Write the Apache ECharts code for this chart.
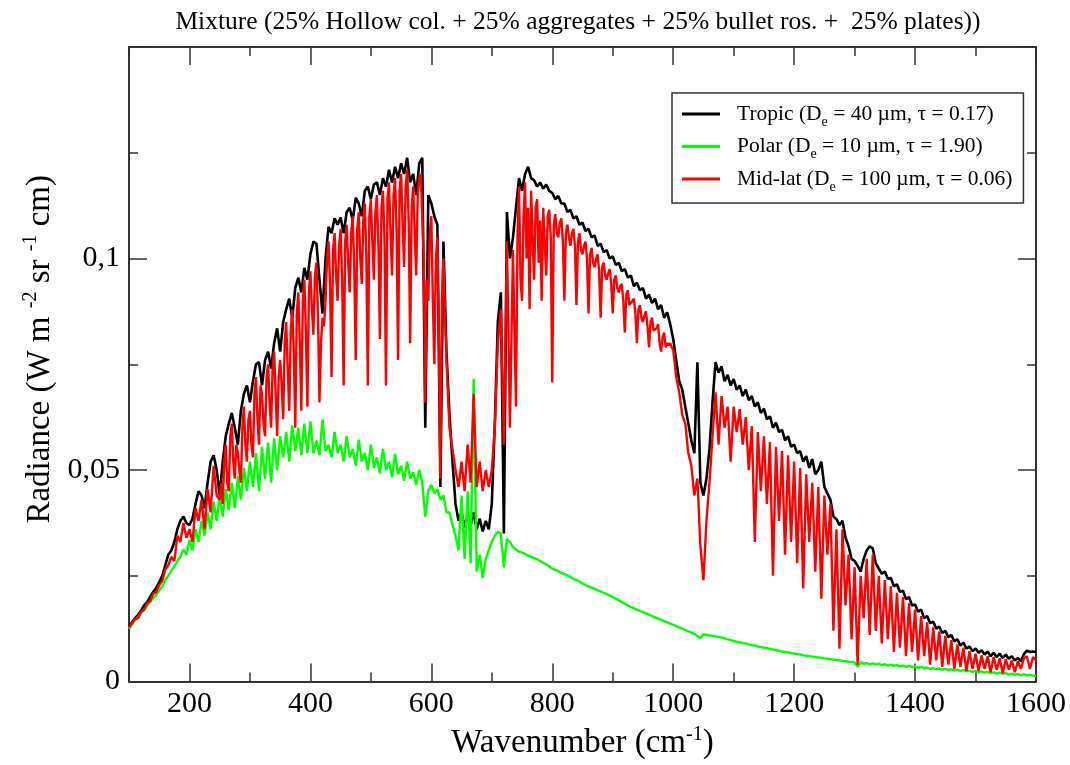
<!DOCTYPE html>
<html><head><meta charset="utf-8">
<script src="https://cdn.jsdelivr.net/npm/echarts@6/dist/echarts.min.js"></script>
<style>html,body{margin:0;padding:0;background:#fff}#chart{width:1070px;height:765px}</style>
</head><body><div id="chart"></div>
<script>
// wavenumber grid (cm-1) for Tropic and Polar
const wavenumber = [
100,105,110,115,120,125,130,135,140,145,
150,155,160,165,170,175,180,185,190,195,
200,205,210,215,220,225,230,235,240,245,
250,255,260,265,270,275,280,285,290,295,
300,305,310,315,320,325,330,335,340,345,
350,355,360,365,370,375,380,385,390,395,
400,405,410,415,420,425,430,435,440,445,
450,455,460,465,470,475,480,485,490,495,
500,505,510,515,520,525,530,535,540,545,
550,555,560,565,570,575,580,585,590,595,
600,605,610,615,620,625,630,635,640,645,
650,655,660,665,670,675,680,685,690,695,
700,705,710,715,720,725,730,735,740,745,
750,755,760,765,770,775,780,785,790,795,
800,805,810,815,820,825,830,835,840,845,
850,855,860,865,870,875,880,885,890,895,
900,905,910,915,920,925,930,935,940,945,
950,955,960,965,970,975,980,985,990,995,
1000,1005,1010,1015,1020,1025,1030,1035,1040,1045,
1050,1055,1060,1065,1070,1075,1080,1085,1090,1095,
1100,1105,1110,1115,1120,1125,1130,1135,1140,1145,
1150,1155,1160,1165,1170,1175,1180,1185,1190,1195,
1200,1205,1210,1215,1220,1225,1230,1235,1240,1245,
1250,1255,1260,1265,1270,1275,1280,1285,1290,1295,
1300,1305,1310,1315,1320,1325,1330,1335,1340,1345,
1350,1355,1360,1365,1370,1375,1380,1385,1390,1395,
1400,1405,1410,1415,1420,1425,1430,1435,1440,1445,
1450,1455,1460,1465,1470,1475,1480,1485,1490,1495,
1500,1505,1510,1515,1520,1525,1530,1535,1540,1545,
1550,1555,1560,1565,1570,1575,1580,1585,1590,1595,
1600];

// Tropic (black)
const tropic = [
0.0130,0.0140,0.0150,0.0158,0.0168,0.0180,0.0188,0.0200,0.0212,0.0222,
0.0235,0.0250,0.0275,0.0300,0.0310,0.0330,0.0360,0.0380,0.0390,0.0375,
0.0370,0.0385,0.0420,0.0450,0.0440,0.0410,0.0470,0.0520,0.0535,0.0500,
0.0440,0.0520,0.0580,0.0610,0.0635,0.0600,0.0560,0.0640,0.0680,0.0700,
0.0660,0.0710,0.0750,0.0755,0.0700,0.0760,0.0780,0.0740,0.0800,0.0835,
0.0780,0.0850,0.0880,0.0905,0.0860,0.0930,0.0955,0.0920,0.0978,0.0950,
0.1010,0.1040,0.1035,0.0950,0.0870,0.1000,0.1075,0.1060,0.1095,0.1080,
0.1097,0.1060,0.1110,0.1120,0.1090,0.1144,0.1130,0.1100,0.1160,0.1170,
0.1140,0.1175,0.1180,0.1150,0.1190,0.1170,0.1210,0.1180,0.1217,0.1190,
0.1225,0.1200,0.1238,0.1180,0.1200,0.1150,0.1225,0.1238,0.0600,0.1150,
0.1130,0.1100,0.1080,0.0460,0.1040,0.0780,0.0630,0.0520,0.0420,0.0380,
0.0400,0.0365,0.0395,0.0370,0.0400,0.0360,0.0385,0.0355,0.0380,0.0360,
0.0420,0.0610,0.0850,0.0920,0.0350,0.1110,0.1000,0.1050,0.1120,0.1190,
0.1160,0.1200,0.1217,0.1190,0.1185,0.1170,0.1180,0.1165,0.1175,0.1160,
0.1155,0.1140,0.1148,0.1130,0.1130,0.1110,0.1115,0.1095,0.1100,0.1080,
0.1085,0.1065,0.1070,0.1050,0.1055,0.1030,0.1035,0.1015,0.1020,0.1000,
0.1005,0.0985,0.0990,0.0970,0.0975,0.0955,0.0960,0.0935,0.0943,0.0925,
0.0930,0.0905,0.0915,0.0895,0.0905,0.0880,0.0890,0.0860,0.0873,0.0845,
0.0810,0.0760,0.0710,0.0690,0.0650,0.0610,0.0570,0.0540,0.0755,0.0470,
0.0440,0.0480,0.0550,0.0660,0.0755,0.0730,0.0745,0.0710,0.0725,0.0700,
0.0715,0.0690,0.0700,0.0675,0.0690,0.0665,0.0675,0.0650,0.0660,0.0635,
0.0645,0.0620,0.0627,0.0600,0.0612,0.0590,0.0595,0.0570,0.0580,0.0555,
0.0560,0.0540,0.0545,0.0520,0.0533,0.0505,0.0526,0.0490,0.0500,0.0520,
0.0460,0.0445,0.0430,0.0390,0.0384,0.0370,0.0380,0.0340,0.0320,0.0290,
0.0285,0.0274,0.0260,0.0290,0.0310,0.0320,0.0315,0.0280,0.0267,0.0255,
0.0260,0.0243,0.0245,0.0225,0.0230,0.0212,0.0215,0.0195,0.0200,0.0180,
0.0182,0.0165,0.0170,0.0150,0.0155,0.0138,0.0142,0.0125,0.0130,0.0115,
0.0120,0.0105,0.0110,0.0095,0.0100,0.0085,0.0092,0.0078,0.0083,0.0072,
0.0078,0.0068,0.0074,0.0064,0.0071,0.0060,0.0068,0.0058,0.0066,0.0056,
0.0064,0.0054,0.0060,0.0050,0.0056,0.0048,0.0065,0.0073,0.0070,0.0071,
0.0070];

// Polar (green)
const polar = [
0.0125,0.0135,0.0145,0.0152,0.0162,0.0170,0.0180,0.0188,0.0197,0.0205,
0.0215,0.0225,0.0240,0.0250,0.0262,0.0272,0.0285,0.0295,0.0312,0.0300,
0.0335,0.0310,0.0360,0.0330,0.0380,0.0345,0.0400,0.0360,0.0425,0.0380,
0.0440,0.0390,0.0455,0.0405,0.0470,0.0410,0.0485,0.0430,0.0505,0.0450,
0.0520,0.0460,0.0540,0.0450,0.0555,0.0480,0.0565,0.0470,0.0575,0.0500,
0.0580,0.0530,0.0590,0.0520,0.0605,0.0545,0.0600,0.0535,0.0610,0.0540,
0.0615,0.0540,0.0570,0.0535,0.0620,0.0545,0.0560,0.0530,0.0590,0.0540,
0.0560,0.0520,0.0580,0.0530,0.0550,0.0510,0.0572,0.0520,0.0540,0.0500,
0.0560,0.0505,0.0530,0.0492,0.0550,0.0500,0.0520,0.0483,0.0538,0.0490,
0.0510,0.0475,0.0520,0.0480,0.0495,0.0465,0.0500,0.0470,0.0390,0.0450,
0.0465,0.0445,0.0455,0.0430,0.0440,0.0400,0.0400,0.0370,0.0345,0.0310,
0.0440,0.0290,0.0450,0.0280,0.0715,0.0260,0.0300,0.0245,0.0290,0.0310,
0.0330,0.0345,0.0354,0.0350,0.0270,0.0337,0.0330,0.0318,0.0312,0.0307,
0.0305,0.0302,0.0298,0.0295,0.0292,0.0289,0.0285,0.0281,0.0277,0.0272,
0.0267,0.0264,0.0261,0.0257,0.0254,0.0251,0.0247,0.0243,0.0240,0.0236,
0.0232,0.0228,0.0225,0.0222,0.0219,0.0216,0.0213,0.0210,0.0207,0.0203,
0.0200,0.0196,0.0192,0.0188,0.0184,0.0180,0.0176,0.0173,0.0170,0.0167,
0.0164,0.0161,0.0158,0.0155,0.0152,0.0149,0.0146,0.0143,0.0140,0.0137,
0.0134,0.0131,0.0128,0.0125,0.0122,0.0119,0.0116,0.0113,0.0108,0.0102,
0.0112,0.0110,0.0109,0.0108,0.0107,0.0106,0.0104,0.0102,0.0100,0.0098,
0.0096,0.0094,0.0093,0.0091,0.0090,0.0088,0.0086,0.0085,0.0083,0.0082,
0.0080,0.0079,0.0077,0.0076,0.0074,0.0073,0.0071,0.0070,0.0069,0.0067,
0.0066,0.0065,0.0064,0.0062,0.0061,0.0060,0.0059,0.0058,0.0057,0.0056,
0.0055,0.0054,0.0053,0.0052,0.0051,0.0050,0.0049,0.0048,0.0047,0.0046,
0.0045,0.0035,0.0046,0.0042,0.0044,0.0041,0.0043,0.0040,0.0042,0.0039,
0.0041,0.0038,0.0040,0.0037,0.0039,0.0036,0.0038,0.0035,0.0037,0.0034,
0.0036,0.0032,0.0035,0.0031,0.0033,0.0030,0.0032,0.0029,0.0031,0.0028,
0.0030,0.0027,0.0029,0.0026,0.0028,0.0025,0.0027,0.0024,0.0026,0.0023,
0.0025,0.0022,0.0024,0.0021,0.0023,0.0020,0.0022,0.0019,0.0021,0.0018,
0.0020,0.0017,0.0019,0.0016,0.0018,0.0015,0.0017,0.0015,0.0016,0.0014,
0.0014];

// wavenumber grid (cm-1) for Mid-lat (finer where the lines are dense)
const midlatWavenumber = [
100,105,110,115,120,125,130,135,140,145,
150,155,160,165,170,175,180,185,190,195,
200,205,210,215,220,225,230,235,240,245,
250,252.5,255,257.5,260,262.5,265,267.5,
270,272.5,275,277.5,280,282.5,285,287.5,
290,292.5,295,297.5,300,302.5,305,307.5,
310,312.5,315,317.5,320,322.5,325,327.5,
330,332.5,335,337.5,340,342.5,345,347.5,
350,352.5,355,357.5,360,362.5,365,367.5,
370,372.5,375,377.5,380,382.5,385,387.5,
390,392.5,395,397.5,400,402.5,405,407.5,
410,412.5,415,417.5,420,422.5,425,427.5,
430,432.5,435,437.5,440,442.5,445,447.5,
450,452.5,455,457.5,460,462.5,465,467.5,
470,472.5,475,477.5,480,482.5,485,487.5,
490,492.5,495,497.5,500,502.5,505,507.5,
510,512.5,515,517.5,520,522.5,525,527.5,
530,532.5,535,537.5,540,542.5,545,547.5,
550,552.5,555,557.5,560,562.5,565,567.5,
570,572.5,575,577.5,580,582.5,585,587.5,
590,592.5,595,597.5,600,602.5,605,607.5,
610,612.5,615,617.5,620,
625,630,635,640,645,
650,655,660,665,670,675,680,685,690,695,
700,705,710,715,720,725,730,735,
740,742.5,745,747.5,750,752.5,755,757.5,
760,762.5,765,767.5,770,772.5,775,777.5,
780,782.5,785,787.5,790,792.5,795,797.5,
800,802.5,805,807.5,810,812.5,815,817.5,
820,822.5,825,827.5,830,832.5,835,837.5,
840,842.5,845,847.5,850,852.5,855,857.5,
860,862.5,865,867.5,870,872.5,875,877.5,
880,882.5,885,887.5,890,892.5,895,897.5,
900,902.5,905,907.5,910,912.5,915,917.5,
920,922.5,925,927.5,930,932.5,935,937.5,
940,942.5,945,947.5,950,952.5,955,957.5,
960,962.5,965,967.5,970,972.5,975,977.5,
980,982.5,985,987.5,990,992.5,995,997.5,
1000,1005,1010,1015,1020,1025,1030,1035,1040,1045,
1050,1055,1060,1065,1070,1075,1080,1085,1090,1095,
1100,1105,1110,1115,1120,1125,1130,1135,1140,1145,
1150,1155,1160,1165,1170,1175,1180,1185,1190,1195,
1200,1205,1210,1215,1220,1225,1230,1235,1240,1245,
1250,1255,1260,1265,1270,1275,1280,1285,1290,1295,
1300,1305,1310,1315,1320,1325,1330,1335,1340,1345,
1350,1355,1360,1365,1370,1375,1380,1385,1390,1395,
1400,1405,1410,1415,1420,1425,1430,1435,1440,1445,
1450,1455,1460,1465,1470,1475,1480,1485,1490,1495,
1500,1505,1510,1515,1520,1525,1530,1535,1540,1545,
1550,1555,1560,1565,1570,1575,1580,1585,1590,1595,
1600];

// Mid-lat (red)
const midlat = [
0.0128,0.0138,0.0148,0.0150,0.0165,0.0170,0.0185,0.0190,0.0208,0.0212,
0.0228,0.0238,0.0265,0.0275,0.0295,0.0285,0.0345,0.0330,0.0375,0.0340,
0.0360,0.0330,0.0410,0.0380,0.0430,0.0360,0.0455,0.0400,0.0510,0.0440,
0.0430,0.0470,0.0420,0.0520,0.0560,0.0470,0.0450,0.0580,
0.0610,0.0520,0.0480,0.0560,0.0540,0.0500,0.0470,0.0600,
0.0650,0.0560,0.0520,0.0620,0.0640,0.0560,0.0530,0.0680,
0.0720,0.0620,0.0560,0.0700,0.0680,0.0610,0.0580,0.0720,
0.0750,0.0660,0.0600,0.0740,0.0780,0.0680,0.0580,0.0720,
0.0760,0.0700,0.0620,0.0800,0.0850,0.0740,0.0640,0.0830,
0.0880,0.0780,0.0600,0.0870,0.0920,0.0800,0.0640,0.0900,
0.0950,0.0830,0.0650,0.0920,0.0970,0.0880,0.0820,0.0960,
0.0990,0.0870,0.0660,0.0800,0.0860,0.0840,0.0900,0.1000,
0.1040,0.0940,0.0720,0.1020,0.1060,0.0960,0.0900,0.1030,
0.1070,0.0950,0.0700,0.1040,0.1080,0.0990,0.0920,0.1060,
0.1100,0.0980,0.0760,0.1070,0.1110,0.1000,0.0940,0.1090,
0.1130,0.1010,0.0700,0.1100,0.1140,0.1040,0.0950,0.1110,
0.1150,0.1030,0.0810,0.1120,0.1160,0.1050,0.0700,0.1140,
0.1180,0.1060,0.0960,0.1150,0.1190,0.1070,0.0760,0.1160,
0.1200,0.1080,0.0980,0.1170,0.1210,0.1090,0.0800,0.1120,
0.1170,0.1060,0.0960,0.1150,0.1190,0.1200,0.1200,0.1000,
0.0660,0.0950,0.0900,0.1060,0.1100,0.0900,0.0750,0.1000,
0.1050,0.0800,0.0480,0.0900,0.1000,
0.0760,0.0600,0.0550,0.0500,0.0460,
0.0520,0.0450,0.0560,0.0470,0.0680,0.0460,0.0520,0.0450,0.0500,0.0460,
0.0500,0.0600,0.0800,0.0880,0.0560,0.1040,0.0600,0.1020,
0.0650,0.1050,0.1170,0.0950,0.0900,0.1100,0.1180,0.1000,
0.1120,0.0880,0.1160,0.1050,0.0950,0.1120,0.1140,0.0990,
0.1090,0.0900,0.1120,0.1040,0.0960,0.1100,0.1115,0.1050,
0.0707,0.1080,0.1105,0.1060,0.1050,0.1085,0.1095,0.1040,
0.0900,0.1060,0.1080,0.1050,0.1030,0.1060,0.1070,0.1030,
0.0890,0.1040,0.1060,0.1020,0.1010,0.1030,0.1040,0.1000,
0.0870,0.1010,0.1025,0.0990,0.0980,0.1000,0.1010,0.0970,
0.0860,0.0980,0.0990,0.0960,0.0950,0.0965,0.0975,0.0940,
0.0870,0.0950,0.0960,0.0930,0.0920,0.0935,0.0940,0.0900,
0.0825,0.0915,0.0925,0.0890,0.0890,0.0900,0.0905,0.0870,
0.0800,0.0880,0.0890,0.0860,0.0850,0.0865,0.0875,0.0840,
0.0790,0.0850,0.0860,0.0830,0.0830,0.0835,0.0845,0.0800,
0.0780,0.0815,0.0825,0.0790,0.0800,0.0795,0.0800,0.0790,
0.0785,0.0720,0.0684,0.0630,0.0610,0.0540,0.0510,0.0440,0.0480,0.0320,
0.0240,0.0380,0.0470,0.0580,0.0684,0.0560,0.0675,0.0600,0.0650,0.0520,
0.0650,0.0590,0.0644,0.0560,0.0625,0.0500,0.0604,0.0330,0.0590,0.0450,
0.0580,0.0420,0.0566,0.0250,0.0555,0.0380,0.0545,0.0300,0.0535,0.0330,
0.0520,0.0280,0.0505,0.0220,0.0490,0.0330,0.0470,0.0260,0.0460,0.0196,
0.0440,0.0300,0.0420,0.0120,0.0360,0.0078,0.0360,0.0180,0.0300,0.0100,
0.0270,0.0040,0.0250,0.0150,0.0290,0.0110,0.0300,0.0120,0.0250,0.0090,
0.0240,0.0100,0.0225,0.0070,0.0210,0.0080,0.0200,0.0060,0.0185,0.0070,
0.0170,0.0050,0.0155,0.0060,0.0140,0.0040,0.0128,0.0050,0.0118,0.0035,
0.0108,0.0040,0.0098,0.0030,0.0088,0.0035,0.0080,0.0025,0.0072,0.0030,
0.0066,0.0025,0.0062,0.0030,0.0060,0.0022,0.0058,0.0028,0.0055,0.0020,
0.0053,0.0028,0.0050,0.0022,0.0048,0.0030,0.0055,0.0060,0.0030,0.0058,
0.0050];

const seriesNames = ['Tropic', 'Polar', 'Mid-lat'];
const seriesColors = ['#000000', '#00ff00', '#ff0000'];
const legendLabels = {
  'Tropic': '{f|Tropic (D}{b|e}{t| = 40 \u00b5m, \u03c4 = 0.17)}',
  'Polar': '{f|Polar (D}{b|e}{t| = 10 \u00b5m, \u03c4 = 1.90)}',
  'Mid-lat': '{f|Mid-lat (D}{b|e}{t| = 100 \u00b5m, \u03c4 = 0.06)}'
};
const xMajorTicks = [200, 400, 600, 800, 1000, 1200, 1400, 1600];
const titleText = 'Mixture (25% Hollow col. + 25% aggregates + 25% bullet ros. +  25% plates))';

const FONT = "'Liberation Serif', 'DejaVu Serif', serif";
const AX = '#333';

const chart = echarts.init(document.getElementById('chart'), null, {renderer: 'canvas'});

function frameX(pos, major) {
  return {
    type: 'value', position: pos, min: 100, max: 1600, gridIndex: 0,
    interval: major ? undefined : 100,
    axisLine: {show: major, onZero: false, lineStyle: {color: AX, width: 2}},
    axisTick: major
      ? {show: true, inside: true, length: 18, customValues: xMajorTicks, lineStyle: {color: AX, width: 1.5}}
      : {show: true, inside: true, length: 9, lineStyle: {color: AX, width: 1.5}},
    axisLabel: (major && pos === 'bottom')
      ? {show: true, customValues: xMajorTicks, margin: 8, color: '#000', fontFamily: FONT, fontSize: 30,
         formatter: function (v) { return String(Math.round(v)); }}
      : {show: false},
    splitLine: {show: false}
  };
}
function frameY(pos, labels) {
  return {
    type: 'value', position: pos, min: 0, max: 0.15, interval: 0.05,
    axisLine: {show: true, onZero: false, lineStyle: {color: AX, width: 2}},
    axisTick: {show: true, inside: true, length: 18, lineStyle: {color: AX, width: 1.5}},
    minorTick: {show: true, splitNumber: 2, length: 9, lineStyle: {color: AX, width: 1.5}},
    axisLabel: labels ? {
      show: true, margin: 9, color: '#000', fontFamily: FONT, fontSize: 30,
      formatter: function (v) { if (v > 0.14) return ''; return String(+v.toFixed(3)).replace('.', ','); }
    } : {show: false},
    splitLine: {show: false}, minorSplitLine: {show: false}
  };
}

const xAxes = [frameX('bottom', true), frameX('bottom', false), frameX('top', true), frameX('top', false)];
xAxes[0].name = '{t|Wavenumber (cm}{s|-1}{t|)}';
xAxes[0].nameLocation = 'middle';
xAxes[0].nameGap = 42;
xAxes[0].nameTextStyle = {
  rich: {
    t: {fontFamily: FONT, fontSize: 33, color: '#000', lineHeight: 38},
    s: {fontFamily: FONT, fontSize: 20, color: '#000', lineHeight: 20, verticalAlign: 'top'}
  }
};
const yAxes = [frameY('left', true), frameY('right', false)];
yAxes[0].name = '{p|Radiance (W m }{s|-2}{t| sr }{s|-1}{t| cm)}';
yAxes[0].nameLocation = 'middle';
yAxes[0].nameRotate = 90;
yAxes[0].nameGap = 70;
yAxes[0].nameTextStyle = {
  rich: {
    p: {fontFamily: FONT, fontSize: 33, color: '#000', lineHeight: 38, padding: [0, 0, 0, 30]},
    t: {fontFamily: FONT, fontSize: 33, color: '#000', lineHeight: 38},
    s: {fontFamily: FONT, fontSize: 20, color: '#000', lineHeight: 20, verticalAlign: 'top'}
  }
};

const allValues = [tropic, polar, midlat];
const allX = [wavenumber, wavenumber, midlatWavenumber];
const widths = [2.6, 2.4, 2.4];
const series = seriesNames.map(function (name, k) {
  return {
    name: name, type: 'line', xAxisIndex: 0, yAxisIndex: 0,
    symbol: 'none', showSymbol: false, sampling: null,
    lineStyle: {color: seriesColors[k], width: widths[k]},
    itemStyle: {color: seriesColors[k]},
    z: 2 + k,
    data: allX[k].map(function (w, i) { return [w, allValues[k][i]]; })
  };
});

chart.setOption({
  animation: false,
  backgroundColor: '#ffffff',
  title: {
    text: titleText, left: 573, top: 4, textAlign: 'center',
    textStyle: {fontFamily: FONT, fontSize: 25.5, fontWeight: 'normal', color: '#000'}
  },
  grid: {left: 129, right: 34, top: 47, bottom: 82, containLabel: false},
  xAxis: xAxes,
  yAxis: yAxes,
  legend: {
    data: seriesNames, orient: 'vertical', left: 672, top: 93,
    icon: 'rect', itemWidth: 38, itemHeight: 3, itemGap: 6.5,
    padding: [10, 11, 9, 10],
    backgroundColor: '#ffffff', borderColor: '#333', borderWidth: 1.5,
    formatter: function (name) { return legendLabels[name]; },
    textStyle: {
      fontFamily: FONT, fontSize: 21.5, color: '#000',
      rich: {
        f: {fontFamily: FONT, fontSize: 21.5, color: '#000', lineHeight: 30, padding: [0, 0, 0, 12]},
        t: {fontFamily: FONT, fontSize: 21.5, color: '#000', lineHeight: 30},
        b: {fontFamily: FONT, fontSize: 14, color: '#000', lineHeight: 14, verticalAlign: 'bottom'}
      }
    }
  },
  series: series
});
</script>
</body></html>
